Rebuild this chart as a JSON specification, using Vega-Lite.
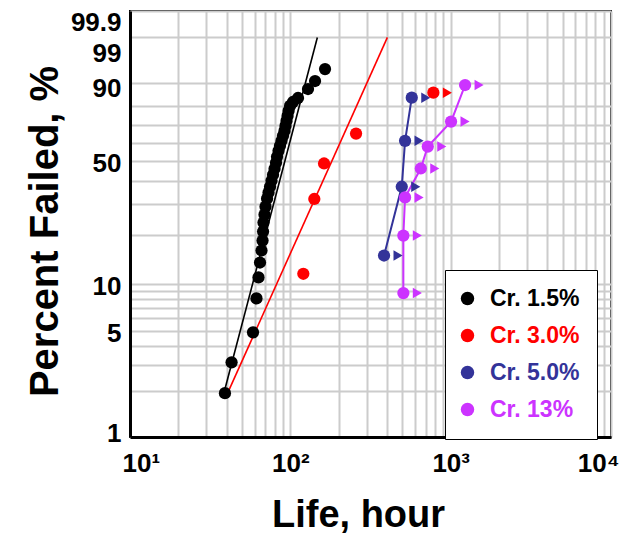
{
  "$schema": "https://vega.github.io/schema/vega-lite/v6.json",
  "width": 481,
  "height": 426,
  "autosize": {"type": "none"},
  "padding": {"left": 130, "top": 11, "right": 30, "bottom": 96},
  "background": "white",
  "config": {
    "view": {"stroke": "black", "strokeWidth": 2},
    "font": "Liberation Sans"
  },
  "datasets": {
    "pts": [
      {"s": "Cr. 1.5%", "t": 39.1, "p": 1.95, "c": 0},
      {"s": "Cr. 1.5%", "t": 43.0, "p": 3.11, "c": 0},
      {"s": "Cr. 1.5%", "t": 58.5, "p": 4.88, "c": 0},
      {"s": "Cr. 1.5%", "t": 61.5, "p": 8.07, "c": 0},
      {"s": "Cr. 1.5%", "t": 63.3, "p": 10.96, "c": 0},
      {"s": "Cr. 1.5%", "t": 64.7, "p": 13.58, "c": 0},
      {"s": "Cr. 1.5%", "t": 66.1, "p": 16.09, "c": 0},
      {"s": "Cr. 1.5%", "t": 67.1, "p": 18.48, "c": 0},
      {"s": "Cr. 1.5%", "t": 67.6, "p": 20.90, "c": 0},
      {"s": "Cr. 1.5%", "t": 68.0, "p": 23.60, "c": 0},
      {"s": "Cr. 1.5%", "t": 69.0, "p": 26.22, "c": 0},
      {"s": "Cr. 1.5%", "t": 70.0, "p": 29.08, "c": 0},
      {"s": "Cr. 1.5%", "t": 71.6, "p": 32.19, "c": 0},
      {"s": "Cr. 1.5%", "t": 73.1, "p": 34.68, "c": 0},
      {"s": "Cr. 1.5%", "t": 74.7, "p": 37.29, "c": 0},
      {"s": "Cr. 1.5%", "t": 76.3, "p": 40.04, "c": 0},
      {"s": "Cr. 1.5%", "t": 78.0, "p": 42.92, "c": 0},
      {"s": "Cr. 1.5%", "t": 79.7, "p": 45.91, "c": 0},
      {"s": "Cr. 1.5%", "t": 81.4, "p": 49.01, "c": 0},
      {"s": "Cr. 1.5%", "t": 82.6, "p": 52.20, "c": 0},
      {"s": "Cr. 1.5%", "t": 84.4, "p": 55.49, "c": 0},
      {"s": "Cr. 1.5%", "t": 86.2, "p": 58.25, "c": 0},
      {"s": "Cr. 1.5%", "t": 88.1, "p": 61.05, "c": 0},
      {"s": "Cr. 1.5%", "t": 90.0, "p": 63.87, "c": 0},
      {"s": "Cr. 1.5%", "t": 92.0, "p": 66.67, "c": 0},
      {"s": "Cr. 1.5%", "t": 93.3, "p": 69.46, "c": 0},
      {"s": "Cr. 1.5%", "t": 94.7, "p": 72.21, "c": 0},
      {"s": "Cr. 1.5%", "t": 96.1, "p": 74.89, "c": 0},
      {"s": "Cr. 1.5%", "t": 97.5, "p": 77.50, "c": 0},
      {"s": "Cr. 1.5%", "t": 99.6, "p": 80.02, "c": 0},
      {"s": "Cr. 1.5%", "t": 103.9, "p": 81.95, "c": 0},
      {"s": "Cr. 1.5%", "t": 111.7, "p": 83.80, "c": 0},
      {"s": "Cr. 1.5%", "t": 128.9, "p": 87.61, "c": 0},
      {"s": "Cr. 1.5%", "t": 142.6, "p": 90.56, "c": 0},
      {"s": "Cr. 1.5%", "t": 164.6, "p": 94.13, "c": 0},
      {"s": "Cr. 3.0%", "t": 120.5, "p": 11.56, "c": 0},
      {"s": "Cr. 3.0%", "t": 141.1, "p": 32.07, "c": 0},
      {"s": "Cr. 3.0%", "t": 162.3, "p": 48.65, "c": 0},
      {"s": "Cr. 3.0%", "t": 257.0, "p": 65.16, "c": 0},
      {"s": "Cr. 3.0%", "t": 780.0, "p": 86.10, "c": 1},
      {"s": "Cr. 5.0%", "t": 384.1, "p": 15.00, "c": 1},
      {"s": "Cr. 5.0%", "t": 495.4, "p": 37.29, "c": 1},
      {"s": "Cr. 5.0%", "t": 519.5, "p": 61.05, "c": 1},
      {"s": "Cr. 5.0%", "t": 572.0, "p": 83.93, "c": 1},
      {"s": "Cr. 13%", "t": 506.9, "p": 8.73, "c": 1},
      {"s": "Cr. 13%", "t": 506.9, "p": 19.80, "c": 1},
      {"s": "Cr. 13%", "t": 519.5, "p": 32.72, "c": 1},
      {"s": "Cr. 13%", "t": 651.0, "p": 46.06, "c": 1},
      {"s": "Cr. 13%", "t": 719.7, "p": 57.86, "c": 1},
      {"s": "Cr. 13%", "t": 1005.8, "p": 71.82, "c": 1},
      {"s": "Cr. 13%", "t": 1229.9, "p": 89.14, "c": 1}
    ],
    "fit": [
      {"s": "Cr. 1.5%", "t": 38.2, "p": 1.89},
      {"s": "Cr. 1.5%", "t": 147.4, "p": 99.0},
      {"s": "Cr. 3.0%", "t": 40.1, "p": 1.89},
      {"s": "Cr. 3.0%", "t": 403.0, "p": 99.0}
    ]
  },
  "encoding": {
    "x": {
      "field": "t",
      "type": "quantitative",
      "scale": {"type": "log", "domain": [10, 10000], "nice": false},
      "axis": {
        "title": "Life, hour",
        "values": [10, 20, 30, 40, 50, 60, 70, 80, 90, 100, 200, 300, 400, 500, 600, 700, 800, 900, 1000, 2000, 3000, 4000, 5000, 6000, 7000, 8000, 9000, 10000],
        "labelExpr": "datum.value == 10 ? '10¹' : datum.value == 100 ? '10²' : datum.value == 1000 ? '10³' : datum.value == 10000 ? '10⁴' : ''",
        "labelOverlap": false,
        "labelBound": false,
        "labelFlush": true,
        "labelFlushOffset": 8,
        "ticks": false,
        "tickSize": 0,
        "labelPadding": 13,
        "labelFont": "Liberation Sans",
        "labelFontSize": 26,
        "labelFontWeight": "bold",
        "labelColor": "black",
        "grid": true,
        "gridColor": "#cccccc",
        "gridWidth": 2,
        "domainColor": "black",
        "domainWidth": 3,
        "titleFont": "Liberation Sans",
        "titleFontSize": 38,
        "titleFontWeight": "bold",
        "titleColor": "black",
        "titleX": 228,
        "titleY": 89,
        "titleAlign": "center",
        "titleBaseline": "alphabetic"
      }
    },
    "y": {
      "field": "w",
      "type": "quantitative",
      "scale": {"domain": [-4.60015, 1.93264], "nice": false, "zero": false},
      "axis": {
        "title": "Percent Failed, %",
        "values": [-4.60015, -3.90194, -3.49137, -3.19853, -2.9702, -2.78263, -2.6232, -2.48433, -2.36116, -2.25037, -1.49994, -1.03093, -0.67172, -0.36651, -0.08742, 0.18563, 0.47588, 0.83403, 1.52718, 1.93264],
        "labelExpr": "indexof(['1','5','10','50','90','99','99.9'], format(100*(1-exp(-exp(datum.value))),'.3~r')) >= 0 ? format(100*(1-exp(-exp(datum.value))),'.3~r') : ''",
        "labelOverlap": false,
        "labelBound": false,
        "labelFlush": false,
        "labelOffset": {"condition": [{"test": "datum.value > 1.9", "value": 11}, {"test": "datum.value > 1.5", "value": 16}, {"test": "datum.value > 0.8", "value": 6}, {"test": "datum.value < -4", "value": -4}], "value": 3},
        "ticks": false,
        "tickSize": 0,
        "labelPadding": 9,
        "labelFont": "Liberation Sans",
        "labelFontSize": 26,
        "labelFontWeight": "bold",
        "labelColor": "black",
        "grid": true,
        "gridColor": "#cccccc",
        "gridWidth": 2,
        "domainColor": "black",
        "domainWidth": 3,
        "titleFont": "Liberation Sans",
        "titleFontSize": 40,
        "titleFontWeight": "bold",
        "titleColor": "black",
        "titleX": -85,
        "titleY": 220,
        "titleAngle": -90,
        "titleAlign": "center",
        "titleBaseline": "middle"
      }
    }
  },
  "layer": [
    {
      "data": {"name": "fit"},
      "transform": [{"calculate": "log(-log(1 - datum.p/100))", "as": "w"}],
      "mark": {"type": "line", "strokeWidth": 1.6},
      "encoding": {
        "detail": {"field": "s", "type": "nominal"},
        "stroke": {"condition": [{"test": "datum.s == 'Cr. 1.5%'", "value": "#000000"}], "value": "#ff0000"}
      }
    },
    {
      "data": {"name": "pts"},
      "transform": [
        {"filter": "datum.s == 'Cr. 5.0%' || datum.s == 'Cr. 13%'"},
        {"calculate": "log(-log(1 - datum.p/100))", "as": "w"}
      ],
      "mark": {"type": "line", "strokeWidth": 2},
      "encoding": {
        "detail": {"field": "s", "type": "nominal"},
        "stroke": {"condition": [{"test": "datum.s == 'Cr. 5.0%'", "value": "#333399"}], "value": "#cc33ff"},
        "order": {"field": "p", "type": "quantitative"}
      }
    },
    {
      "data": {"name": "pts"},
      "transform": [
        {"filter": "datum.c == 1"},
        {"calculate": "log(-log(1 - datum.p/100))", "as": "w"}
      ],
      "mark": {"type": "point", "shape": "triangle-right", "filled": true, "size": 110, "opacity": 1, "xOffset": 14},
      "encoding": {
        "fill": {"condition": [{"test": "datum.s == 'Cr. 3.0%'", "value": "#ff0000"}, {"test": "datum.s == 'Cr. 5.0%'", "value": "#333399"}], "value": "#cc33ff"}
      }
    },
    {
      "data": {"name": "pts"},
      "transform": [{"calculate": "log(-log(1 - datum.p/100))", "as": "w"}],
      "mark": {"type": "point", "filled": true, "size": 150, "opacity": 1},
      "encoding": {
        "color": {
          "field": "s",
          "type": "nominal",
          "scale": {"domain": ["Cr. 1.5%", "Cr. 3.0%", "Cr. 5.0%", "Cr. 13%"], "range": ["#000000", "#ff0000", "#333399", "#cc33ff"]},
          "legend": {
            "title": null,
            "orient": "none",
            "legendX": 315,
            "legendY": 259,
            "direction": "vertical",
            "symbolType": "circle",
            "symbolSize": 180,
            "symbolStrokeWidth": 0,
            "symbolOpacity": 1,
            "symbolOffset": -6,
            "labelFont": "Liberation Sans",
            "labelFontSize": 23,
            "labelFontWeight": "bold",
            "labelOffset": 11,
            "labelLimit": 200,
            "labelExpr": "datum.label + '\u00a0'",
            "labelColor": {"expr": "datum.value == 'Cr. 3.0%' ? '#ff0000' : datum.value == 'Cr. 5.0%' ? '#333399' : datum.value == 'Cr. 13%' ? '#cc33ff' : '#000000'"},
            "rowPadding": 13,
            "padding": 17,
            "strokeColor": "black",
            "fillColor": "white",
            "encode": {
              "legend": {"strokeWidth": {"value": 2}}
            }
          }
        }
      }
    }
  ]
}
